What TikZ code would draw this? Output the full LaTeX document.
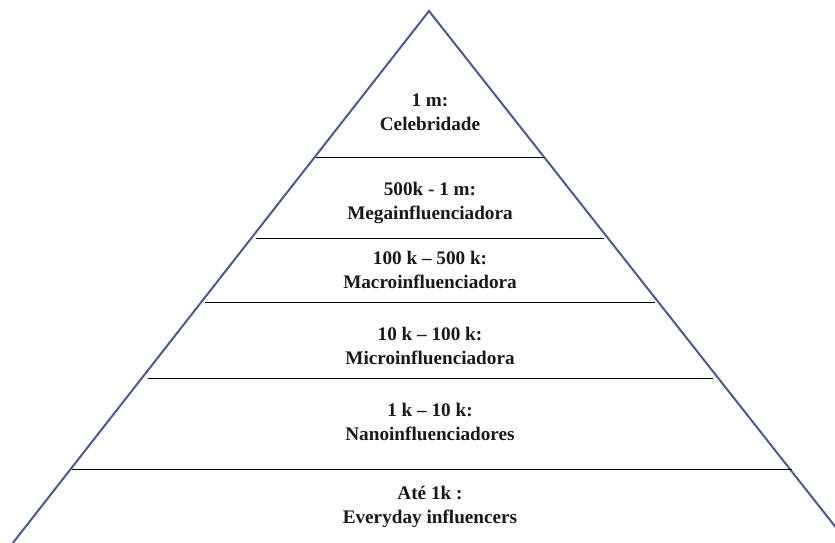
\documentclass[tikz,border=0pt]{standalone}
\usepackage{fontspec}
\setmainfont{Liberation Serif}
\begin{document}
\begin{tikzpicture}[x=1pt,y=-1pt,
  side/.style={draw=pyrblue,line width=2pt},
  tier/.style={draw=black,line width=1pt},
  label/.style={font=\bfseries\fontsize{19.2}{23.5}\selectfont,align=center,text=black!90}]
\definecolor{pyrblue}{HTML}{4A5B8C}
\useasboundingbox (0,0) rectangle (835,542);
% pyramid outline
\coordinate (apex) at (429,11);
\coordinate (bl) at (5,553);
\coordinate (br) at (856,553);
\draw[side] (bl) -- (apex) -- (br);
% tier separators
\coordinate (l1) at (316,157); \coordinate (r1) at (543,157);
\coordinate (l2) at (256,238); \coordinate (r2) at (604,238);
\coordinate (l3) at (205,302); \coordinate (r3) at (655,302);
\coordinate (l4) at (148,378); \coordinate (r4) at (713,378);
\coordinate (l5) at (72,469);  \coordinate (r5) at (792,469);
\draw[tier] (l1) -- (r1);
\draw[tier] (l2) -- (r2);
\draw[tier] (l3) -- (r3);
\draw[tier] (l4) -- (r4);
\draw[tier] (l5) -- (r5);
% tier labels
\node[label] (t1) at (430,112) {1 m:\\Celebridade};
\node[label] (t2) at (430,203) {500k - 1 m:\\Megainfluenciadora};
\node[label] (t3) at (430,270) {100 k – 500 k:\\Macroinfluenciadora};
\node[label] (t4) at (430,346) {10 k – 100 k:\\Microinfluenciadora};
\node[label] (t5) at (430,422) {1 k – 10 k:\\Nanoinfluenciadores};
\node[label] (t6) at (430,507) {Até 1k :\\Everyday influencers};
\end{tikzpicture}
\end{document}
